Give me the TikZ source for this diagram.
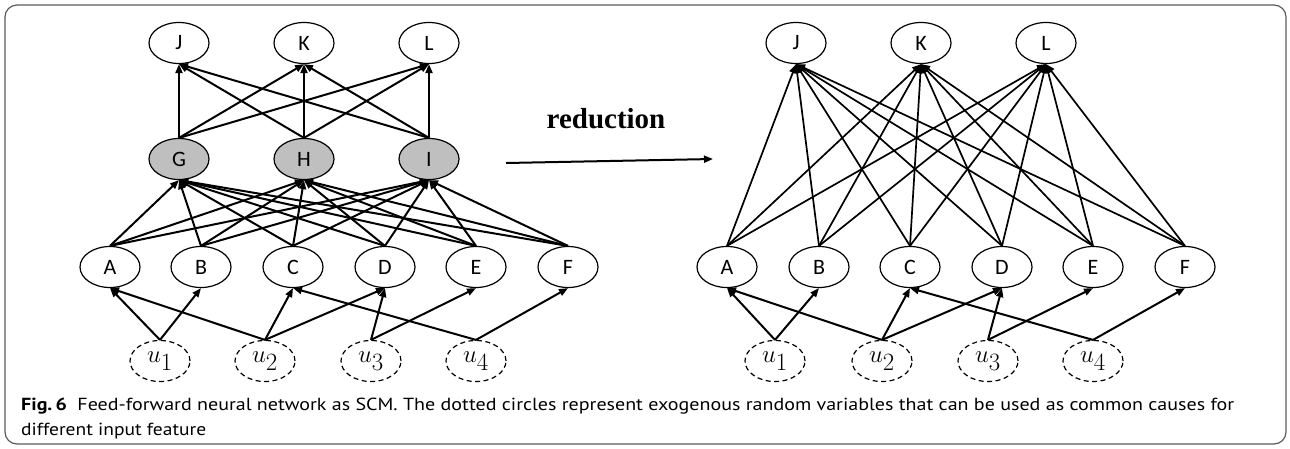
\documentclass[tikz,border=0pt]{standalone}
\usepackage{graphicx}
\usepackage{fontspec}
\setmainfont{Carlito}
\newfontfamily\capfont{PT Sans}
\newfontfamily\redfont{Liberation Serif}
\usetikzlibrary{arrows.meta,shapes.geometric}
\definecolor{hidgray}{RGB}{191,191,191}
\definecolor{framegray}{RGB}{90,90,90}
\begin{document}
\begin{tikzpicture}[x=1pt,y=-1pt,
  nd/.style={draw, ellipse, minimum width=60pt, minimum height=41pt, inner sep=0pt, line width=1.2pt, font=\fontsize{22}{22}\selectfont},
  hid/.style={nd, fill=hidgray},
  exo/.style={nd, dash pattern=on 5pt off 3.5pt, font=\fontsize{34}{34}\selectfont},
  arr/.style={line width=1.7pt, -{Triangle[length=9pt,width=7pt]}},
  arrl/.style={arr, line width=2pt},
  capstyle/.style={anchor=base west, inner sep=0pt, font=\capfont\fontsize{17.5}{17.5}\selectfont},
]
\useasboundingbox (0,0) rectangle (1290,448);
\draw[framegray, line width=1.2pt, rounded corners=12pt] (5,5) rectangle (1286,444);
% left network
\node[nd] (lJ) at (179,43) {J};
\node[nd] (lK) at (304,43) {K};
\node[nd] (lL) at (429,43) {L};
\node[hid] (lG) at (179,159) {G};
\node[hid] (lH) at (304,159) {H};
\node[hid] (lI) at (429,159) {I};
\node[nd] (lA) at (110,267) {A};
\node[nd] (lB) at (201,267) {B};
\node[nd] (lC) at (293,267) {C};
\node[nd] (lD) at (385,267) {D};
\node[nd] (lE) at (476,267) {E};
\node[nd] (lF) at (568,267) {F};
\node[exo] (lu1) at (160,361) {$u_1$};
\node[exo] (lu2) at (265,361) {$u_2$};
\node[exo] (lu3) at (371,361) {$u_3$};
\node[exo] (lu4) at (476,361) {$u_4$};
% right network
\node[nd] (rJ) at (796,43) {J};
\node[nd] (rK) at (921,43) {K};
\node[nd] (rL) at (1046,43) {L};
\node[nd] (rA) at (727,267) {A};
\node[nd] (rB) at (819,267) {B};
\node[nd] (rC) at (910,267) {C};
\node[nd] (rD) at (1002,267) {D};
\node[nd] (rE) at (1093,267) {E};
\node[nd] (rF) at (1185,267) {F};
\node[exo] (ru1) at (775,361) {$u_1$};
\node[exo] (ru2) at (882,361) {$u_2$};
\node[exo] (ru3) at (988,361) {$u_3$};
\node[exo] (ru4) at (1093,361) {$u_4$};
% edges
\foreach \s in {lG,lH,lI} \foreach \t in {lJ,lK,lL} \draw[arrl] (\s.north) -- (\t.south);
\foreach \s in {lA,lB,lC,lD,lE,lF} \foreach \t in {lG,lH,lI} \draw[arrl] (\s.north) -- (\t.south);
\foreach \s in {rA,rB,rC,rD,rE,rF} \foreach \t in {rJ,rK,rL} \draw[arr] (\s.north) -- (\t.south);
\foreach \p in {l,r} {
  \foreach \s/\t in {u1/A,u1/B,u2/A,u2/C,u2/D,u3/D,u3/E,u4/C,u4/F}
    \draw[arrl] (\p\s.north) -- (\p\t.south);
}
% reduction arrow
\coordinate (a1) at (506,163);
\coordinate (a2) at (713,159);
\draw[arrl] (a1) -- (a2);
\node[font=\redfont\bfseries\fontsize{29}{29}\selectfont, anchor=base, inner sep=0pt] (red) at (606,128) {reduction};
% caption
\node[capstyle] (cap1) at (21,410) {\resizebox{1213pt}{\height}{\textbf{Fig.\,6}\hspace{9pt}Feed-forward neural network as SCM. The dotted circles represent exogenous random variables that can be used as common causes for}};
\node[capstyle] (cap2) at (21,435) {\resizebox{185pt}{\height}{different input feature}};
\end{tikzpicture}
\end{document}
